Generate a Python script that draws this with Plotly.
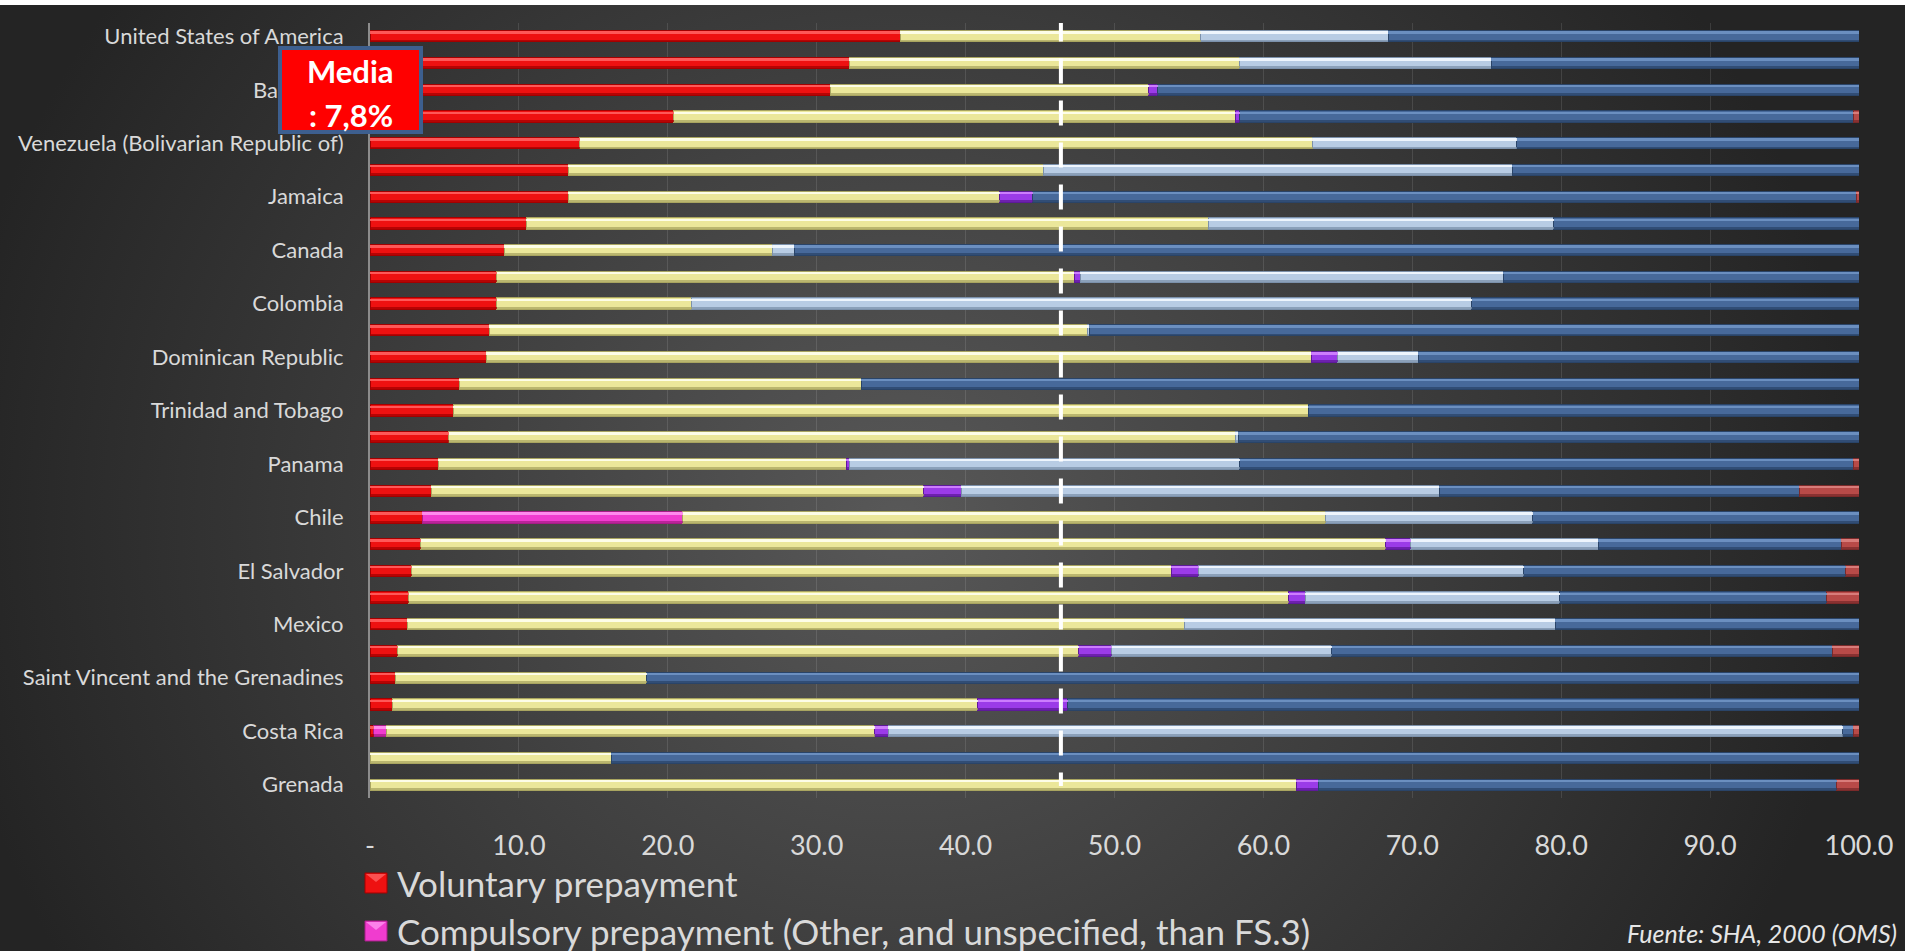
import base64
import plotly.graph_objects as go

# ---------------------------------------------------------------- data
countries = [
    "United States of America", "Brazil", "Barbados", "Uruguay",
    "Venezuela (Bolivarian Republic of)", "Argentina", "Jamaica", "Ecuador",
    "Canada", "Peru", "Colombia", "Paraguay", "Dominican Republic", "Guatemala",
    "Trinidad and Tobago", "Bahamas", "Panama", "Nicaragua", "Chile", "Honduras",
    "El Salvador", "Bolivia (Plurinational State of)", "Mexico", "Haiti",
    "Saint Vincent and the Grenadines", "Saint Lucia", "Costa Rica",
    "Antigua and Barbuda", "Grenada",
]

# labels shown on the category axis (every other country)
labelled_countries = countries[::2]

voluntary = [35.6, 32.2, 30.9, 20.4, 14.1, 13.3, 13.3, 10.5, 9.0, 8.5, 8.5, 8.0, 7.8, 6.0,
             5.6, 5.3, 4.6, 4.1, 3.5, 3.4, 2.8, 2.6, 2.5, 1.85, 1.7, 1.5, 0.25, 0.0, 0.0]
compulsory_other = [0, 0, 0, 0, 0, 0, 0, 0, 0, 0, 0, 0, 0, 0, 0, 0, 0, 0, 17.5, 0, 0, 0, 0,
                    0, 0, 0, 0.85, 0, 0]
government = [20.2, 26.2, 21.4, 37.7, 49.2, 31.9, 29.0, 45.8, 18.0, 38.8, 13.1, 40.2, 55.4,
              27.0, 57.4, 52.8, 27.4, 33.1, 43.2, 64.8, 51.0, 59.1, 52.2, 45.75, 16.9, 39.3,
              32.8, 16.2, 62.2]
foreign_via_gov = [0, 0, 0.6, 0.3, 0, 0, 2.2, 0, 0, 0.4, 0, 0, 1.8, 0, 0, 0, 0.2, 2.5, 0,
                   1.7, 1.85, 1.1, 0, 2.2, 0, 6.05, 0.9, 0, 1.5]
social_insurance = [12.6, 16.9, 0, 0, 13.7, 31.5, 0, 23.2, 1.5, 28.4, 52.4, 0.1, 5.4, 0, 0,
                    0.2, 26.2, 32.1, 13.9, 12.6, 21.85, 17.1, 24.9, 14.8, 0, 0, 64.1, 0, 0]
other_domestic = [31.6, 24.7, 47.1, 41.2, 23.0, 23.3, 55.3, 20.5, 71.5, 23.9, 26.0, 51.7,
                  29.6, 67.0, 37.0, 41.7, 41.2, 24.2, 21.9, 16.3, 21.6, 17.95, 20.4, 33.6,
                  81.4, 53.15, 0.7, 83.8, 34.8]
direct_foreign = [0, 0, 0, 0.4, 0, 0, 0.2, 0, 0, 0, 0, 0, 0, 0, 0, 0, 0.4, 4.0, 0, 1.2, 0.9,
                  2.15, 0, 1.8, 0, 0, 0.4, 0, 1.5]

series_names = [
    "Voluntary prepayment",
    "Compulsory prepayment (Other, and unspecified, than FS.3)",
    "Transfers from government domestic revenue",
    "Transfers distributed by government from foreign origin",
    "Social insurance contributions",
    "Other domestic revenues n.e.c.",
    "Direct foreign transfers",
]
series_values = [voluntary, compulsory_other, government, foreign_via_gov,
                 social_insurance, other_domestic, direct_foreign]

x_ticks = [0, 10, 20, 30, 40, 50, 60, 70, 80, 90, 100]
x_tick_labels = ["-", "10.0", "20.0", "30.0", "40.0", "50.0", "60.0", "70.0", "80.0",
                 "90.0", "100.0"]

reference_line_x = 46.4
mean_label = "Media<br>: 7,8%"
source_note = "Fuente: SHA, 2000 (OMS)"

# ---------------------------------------------------------------- styling
# (main, highlight, shade) per series, gives the bars a bevelled look
palette = [
    ("#ee1111", "#ff6060", "#a30000"),
    ("#f03ccf", "#ff92f0", "#a81c88"),
    ("#ebe79a", "#fffff0", "#a9a560"),
    ("#9b3be8", "#d285ff", "#5e1a9a"),
    ("#b8cce4", "#f4f9ff", "#7c91ab"),
    ("#47699a", "#6f93c4", "#2a4468"),
    ("#b84a48", "#dc8280", "#7a2a2a"),
]

FONT = "Lato, 'Open Sans', sans-serif"
W, H = 1905, 951
ML, MR, MT, MB = 370, 46, 23, 153
PW, PH = W - ML - MR, H - MT - MB


def px_x(p):
    return (p - ML) / PW


def px_y(p):
    return (H - MB - p) / PH


fig = go.Figure()

BAR_W = 0.42
for name, vals, (main, light, dark) in zip(series_names, series_values, palette):
    fig.add_trace(go.Bar(
        y=countries, x=vals, name=name, orientation="h",
        width=BAR_W, offset=-BAR_W / 2,
        marker=dict(color=main, line=dict(color=dark, width=1)),
        showlegend=False, yaxis="y",
    ))
    # highlight stripe near the top of each segment
    fig.add_trace(go.Bar(
        y=countries, x=vals, name=name, orientation="h",
        width=0.07, offset=-0.165,
        marker=dict(color=light, line=dict(width=0), opacity=0.9),
        showlegend=False, yaxis="y2", hoverinfo="skip",
    ))
    # shaded lower edge
    fig.add_trace(go.Bar(
        y=countries, x=vals, name=name, orientation="h",
        width=0.06, offset=0.14,
        marker=dict(color=dark, line=dict(width=0), opacity=0.75),
        showlegend=False, yaxis="y3", hoverinfo="skip",
    ))

cat_axis = dict(type="category", categoryorder="array", categoryarray=countries,
                range=[len(countries) - 0.5, -0.5], automargin=False)

fig.update_layout(
    width=W, height=H,
    margin=dict(l=ML, r=MR, t=MT, b=MB, pad=0),
    barmode="stack",
    template="none",
    paper_bgcolor="#333333",
    plot_bgcolor="rgba(0,0,0,0)",
    font=dict(family=FONT, color="#d9d9d9"),
    showlegend=False,
    xaxis=dict(
        range=[0, 100], tickvals=x_ticks, ticktext=x_tick_labels,
        showgrid=True, gridcolor="rgba(255,255,255,0.11)", gridwidth=1,
        zeroline=False, showline=False,
        ticks="outside", ticklen=24, tickcolor="rgba(0,0,0,0)",
        tickfont=dict(size=27, color="#d9d9d9", family=FONT),
        automargin=False,
    ),
    yaxis=dict(
        **cat_axis,
        tickvals=labelled_countries, ticktext=labelled_countries,
        showgrid=False, zeroline=False,
        showline=True, linecolor="#8c8c8c", linewidth=2,
        ticks="outside", ticklen=20, tickcolor="rgba(0,0,0,0)",
        tickfont=dict(size=22, color="#d9d9d9", family=FONT),
    ),
    yaxis2=dict(**cat_axis, overlaying="y", visible=False),
    yaxis3=dict(**cat_axis, overlaying="y", visible=False),
)

# background: radial grey gradient with a thin white strip at the top
bg_svg = (
    f'<svg xmlns="http://www.w3.org/2000/svg" width="{W}" height="{H}">'
    '<defs><radialGradient id="g" gradientUnits="userSpaceOnUse" cx="900" cy="520" r="960" '
    'gradientTransform="translate(900 520) scale(1 0.95) translate(-900 -520)">'
    '<stop offset="0" stop-color="#585858"/><stop offset="1" stop-color="#242424"/>'
    '</radialGradient></defs>'
    f'<rect width="{W}" height="{H}" fill="url(#g)"/>'
    f'<rect width="{W}" height="5" fill="#ffffff"/></svg>'
)
fig.add_layout_image(
    source="data:image/svg+xml;base64," + base64.b64encode(bg_svg.encode()).decode(),
    xref="paper", yref="paper", x=px_x(0), y=px_y(0),
    sizex=W / PW, sizey=H / PH, sizing="stretch",
    xanchor="left", yanchor="top", layer="below",
)

# dashed white reference line
fig.add_shape(
    type="line", xref="x", yref="y",
    x0=reference_line_x, x1=reference_line_x, y0=-0.74, y1=len(countries) - 0.95,
    line=dict(color="white", width=4, dash="25px,17px"), layer="above",
)

# mean call-out box
fig.add_shape(
    type="rect", xref="paper", yref="paper",
    x0=px_x(280), x1=px_x(421), y0=px_y(132), y1=px_y(48),
    fillcolor="#ff0000", line=dict(color="#3d5f8f", width=4), layer="above",
)
for line_text, cy in zip(mean_label.split("<br>"), (71, 115)):
    fig.add_annotation(
        xref="paper", yref="paper", x=px_x(350.5), y=px_y(cy),
        text=f"<b>{line_text}</b>", showarrow=False,
        xanchor="center", yanchor="middle",
        font=dict(family=FONT, size=31, color="white"),
    )

# legend entries (drawn by hand beneath the axis)
for i, (name, (main, light, dark)) in enumerate(zip(series_names[:2], palette[:2])):
    top = 873 + 48 * i
    fig.add_shape(
        type="rect", xref="paper", yref="paper",
        x0=px_x(365), x1=px_x(387), y0=px_y(top + 20), y1=px_y(top),
        fillcolor=main, line=dict(color=dark, width=1), layer="above",
    )
    fig.add_shape(
        type="path", xref="paper", yref="paper",
        path=(f"M {px_x(366)} {px_y(top + 1)} L {px_x(386)} {px_y(top + 1)} "
              f"L {px_x(376)} {px_y(top + 9)} Z"),
        fillcolor=light, line=dict(width=0), opacity=0.8, layer="above",
    )
    fig.add_annotation(
        xref="paper", yref="paper", x=px_x(395), y=px_y(top + 10),
        text=name, showarrow=False, xanchor="left", yanchor="middle",
        font=dict(family=FONT, size=35, color="#d9d9d9"),
    )

fig.add_annotation(
    xref="paper", yref="paper", x=px_x(1899), y=px_y(933),
    text=f"<i>{source_note}</i>", showarrow=False, xanchor="right", yanchor="middle",
    font=dict(family=FONT, size=25, color="#e6e6e6"),
)

fig.write_html("out.html")
